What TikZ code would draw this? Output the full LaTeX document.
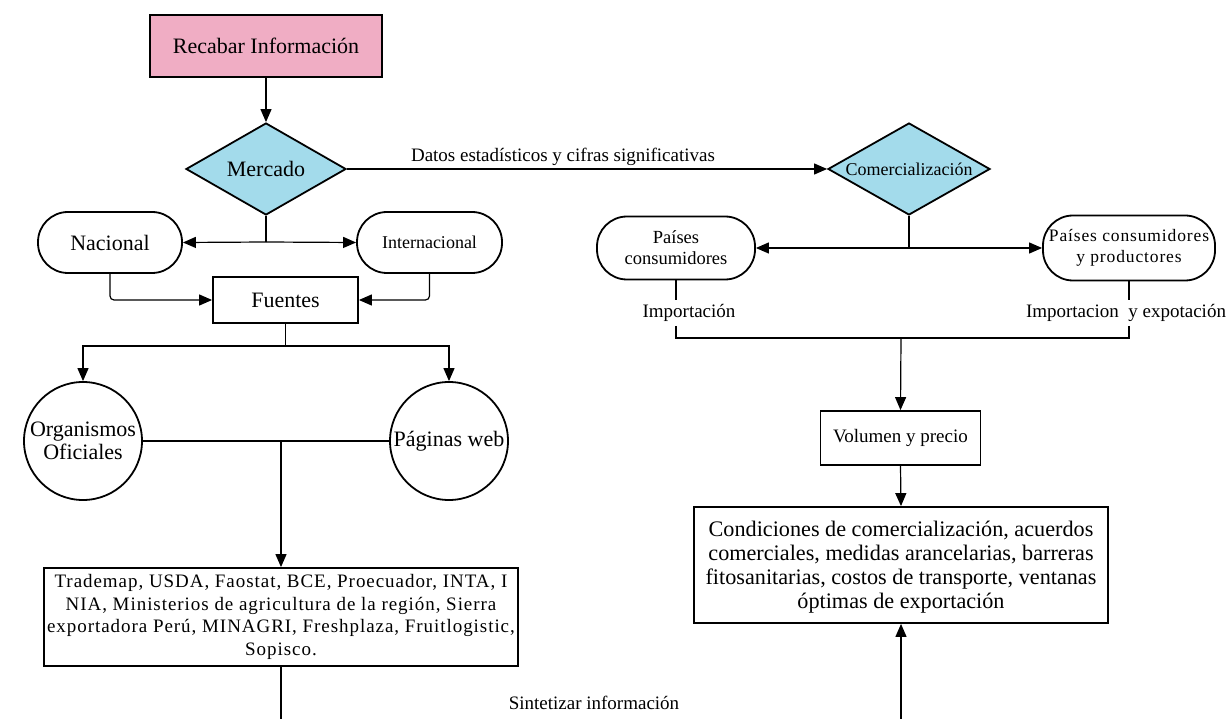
\documentclass[tikz,border=0pt]{standalone}
\usepackage{fontspec}
\setmainfont{Liberation Serif}
\newfontfamily\spaced[LetterSpace=5]{Liberation Serif}
\usetikzlibrary{arrows.meta,shapes.geometric}
\definecolor{pinkfill}{HTML}{F0ADC4}
\definecolor{bluefill}{HTML}{A3DBEB}
\newcommand{\fs}[2]{\fontsize{#1}{#2}\selectfont}
\tikzset{
  conn/.style={line width=1.2pt, -{Triangle[length=13pt,width=11pt]}},
  plain/.style={line width=1.2pt},
  rect/.style={draw, line width=1.8pt, inner sep=0pt, align=center},
  term/.style={draw, line width=1.8pt, rounded corners=30pt, inner sep=0pt, align=center},
  dia/.style={draw, diamond, line width=1.8pt, inner sep=0pt, fill=bluefill},
  circ/.style={draw, circle, line width=1.8pt, inner sep=0pt, minimum size=118pt},
  lbl/.style={inner sep=0pt, align=center},
}
\begin{document}
\begin{tikzpicture}[x=1pt,y=-1pt]
\useasboundingbox (0,0) rectangle (1229,719);
% nodes
\node[rect, fill=pinkfill, minimum width=232pt, minimum height=62pt, font=\fs{22}{24}] (rec) at (266,46) {Recabar Información};
\node[dia, minimum width=160pt, minimum height=92pt] (mer) at (266,169) {};
\node[lbl, font=\fs{22}{24}] (mertxt) at (mer) {Mercado};
\node[dia, minimum width=162pt, minimum height=92pt] (com) at (909,169) {};
\node[lbl, font=\fs{18}{21}] (comtxt) at (com) {Comercialización};
\node[term, minimum width=144pt, minimum height=61pt, font=\fs{22}{24}] (nac) at (110,242.5) {Nacional};
\node[term, minimum width=145pt, minimum height=61pt, font=\fs{18}{21}] (int) at (429.5,242.5) {Internacional};
\node[rect, minimum width=145pt, minimum height=46pt, font=\fs{22}{24}] (fue) at (285.5,300) {Fuentes};
\node[circ] (org) at (83,441) {};
\node[lbl, font=\fs{22}{23}] (orgtxt) at (org) {Organismos\\Oficiales};
\node[circ] (pag) at (449,441) {};
\node[lbl, font=\fs{22}{23}] (pagtxt) at (pag) {Páginas web};
\node[rect, minimum width=474pt, minimum height=98pt, font=\spaced\fs{19}{22.5}] (tra) at (281,617) {Trademap, USDA, Faostat, BCE, Proecuador, INTA, I\\NIA, Ministerios de agricultura de la región, Sierra\\exportadora Perú, MINAGRI, Freshplaza, Fruitlogistic,\\Sopisco.};
\node[term, minimum width=158pt, minimum height=63pt, font=\fs{18.5}{21}] (pc) at (676,248) {Países\\consumidores};
\node[term, minimum width=172pt, minimum height=65pt, font=\spaced\fs{17.5}{21}] (pcp) at (1129,248) {Países consumidores\\y productores};
\node[rect, minimum width=160pt, minimum height=54pt, font=\fs{19}{22}] (vol) at (900.5,438) {Volumen y precio};
\node[rect, minimum width=414pt, minimum height=116pt, font=\fs{22.2}{24}] (cond) at (901,565) {};
\node[lbl, font=\fs{22.2}{24}] (condtxt) at (901,567) {Condiciones de comercialización, acuerdos\\comerciales, medidas arancelarias, barreras\\fitosanitarias, costos de transporte, ventanas\\óptimas de exportación};
% labels
\node[lbl, font=\fs{19}{22}] (datos) at (563,157) {Datos estadísticos y cifras significativas};
\node[lbl, font=\fs{19}{22}] (imp1) at (689,313) {Importación};
\node[lbl, font=\fs{19}{22}] (imp2) at (1126,313) {Importacion\ \ y expotación};
\node[lbl, font=\fs{19}{22}] (sint) at (594,703) {Sintetizar información};
% junction coordinates
\coordinate (mj) at (266,242);
\coordinate (fj) at (285.5,346);
\coordinate (oj) at (281,441);
\coordinate (tb) at (281,719);
\coordinate (cj) at (909,248);
\coordinate (p1a) at (676,300);
\coordinate (p1b) at (676,326);
\coordinate (p2a) at (1129,300);
\coordinate (p2b) at (1129,326);
\coordinate (bj) at (901,338);
\coordinate (cb) at (901,719);
% connectors
\draw[conn] (rec) -- (mer);
\draw[conn] (mer.east) -- (com.west);
\draw[plain] (mer.south) -- (mj);
\draw[conn] (mj) -- (nac.east);
\draw[conn] (mj) -- (int.west);
\draw[conn, rounded corners=4pt] (nac.south) |- (fue.west);
\draw[conn, rounded corners=4pt] (int.south) |- (fue.east);
\draw[plain] (fue.south) -- (fj);
\draw[conn] (fj) -| (org.north);
\draw[conn] (fj) -| (pag.north);
\draw[plain] (org.east) -- (pag.west);
\draw[conn] (oj) -- (tra.north);
\draw[plain] (tra.south) -- (tb);
\draw[plain] (com.south) -- (cj);
\draw[conn] (cj) -- (pc.east);
\draw[conn] (cj) -- (pcp.west);
\draw[plain] (pc.south) -- (p1a);
\draw[plain] (pcp.south) -- (p2a);
\draw[plain] (p1b) |- (bj);
\draw[plain] (p2b) |- (bj);
\draw[conn] (bj) -- (vol.north);
\draw[conn] (vol.south) -- (cond.north);
\draw[conn] (cb) -- (cond.south);
\end{tikzpicture}
\end{document}
